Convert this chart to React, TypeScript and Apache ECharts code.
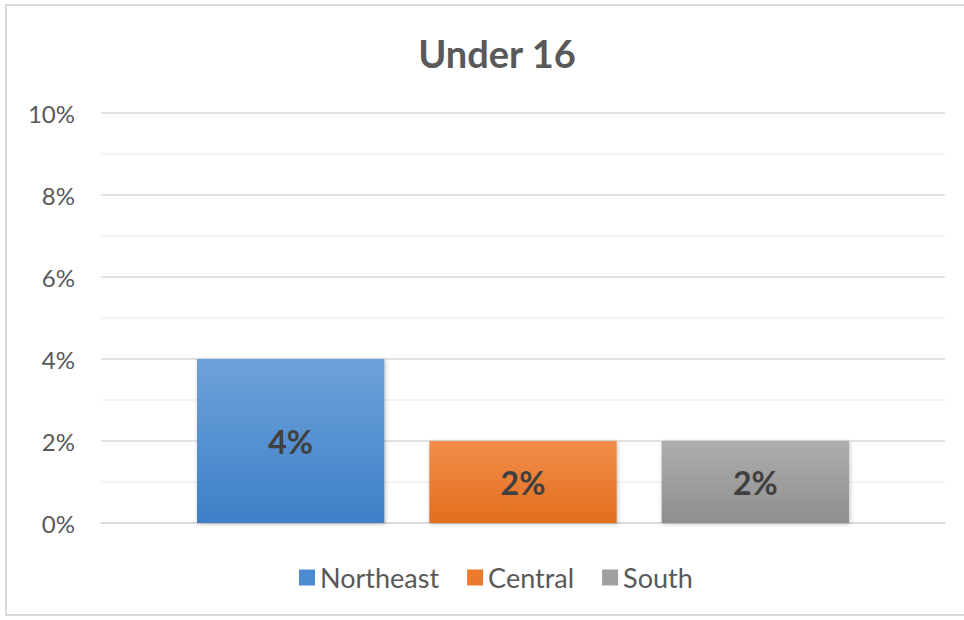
import React, { useEffect, useRef } from "react";
import * as echarts from "echarts";

const title = "Under 16";
const seriesNames = ["Northeast", "Central", "South"];
const seriesValues = [4, 2, 2];
const yTicks = [0, 2, 4, 6, 8, 10];
const colorsTop = ["#6DA2DB", "#F28D4A", "#ADADAD"];
const colorsBottom = ["#3E7FC7", "#E26E1D", "#8F8F8F"];
const legendColors = ["#4A8BD2", "#EC7A2E", "#A0A0A0"];

const FONT = "Lato, 'Open Sans', sans-serif";

export default function App() {
  const ref = useRef<HTMLDivElement>(null);
  useEffect(() => {
    if (!ref.current) return;
    const chart = echarts.init(ref.current, null, { renderer: "svg" });
    const series = seriesNames.map((name, i) => ({
      name,
      type: "bar",
      data: [seriesValues[i]],
      barGap: "24%",
      barCategoryGap: "22.75%",
      itemStyle: {
        color: new echarts.graphic.LinearGradient(0, 0, 0, 1, [
          { offset: 0, color: colorsTop[i] },
          { offset: 1, color: colorsBottom[i] },
        ]),
        shadowColor: "rgba(0,0,0,0.25)",
        shadowBlur: 4,
        shadowOffsetX: 1,
        shadowOffsetY: 1,
      },
      label: {
        show: true,
        position: "inside",
        formatter: "{c}%",
        fontFamily: FONT,
        fontSize: 32,
        fontWeight: "bold",
        color: "#404040",
      },
    }));
    chart.setOption({
      animation: false,
      backgroundColor: "#ffffff",
      color: legendColors,
      title: {
        text: title,
        left: 492,
        textAlign: "center",
        top: 29,
        textStyle: { fontFamily: FONT, fontSize: 38, fontWeight: "bold", color: "#595959" },
      },
      legend: {
        data: seriesNames.map((n, i) => ({ name: n, itemStyle: { color: legendColors[i] } })),
        top: 559,
        left: 294,
        icon: "rect",
        itemWidth: 16,
        itemHeight: 16,
        itemGap: 28,
        textStyle: { fontFamily: FONT, fontSize: 27, color: "#595959" },
      },
      grid: { left: 101, right: 19, top: 113, bottom: 97 },
      xAxis: {
        type: "category",
        data: [""],
        axisLine: { show: true, lineStyle: { color: "#D9D9D9", width: 1.5 } },
        axisTick: { show: false },
        axisLabel: { show: false },
      },
      yAxis: {
        type: "value",
        min: yTicks[0],
        max: yTicks[yTicks.length - 1],
        interval: 2,
        axisLine: { show: false },
        axisTick: { show: false },
        axisLabel: {
          formatter: "{value}%",
          fontFamily: FONT,
          fontSize: 24,
          color: "#595959",
          margin: 26,
        },
        splitLine: { lineStyle: { color: "#D9D9D9", width: 1.5 } },
        minorTick: { show: false, splitNumber: 2 },
        minorSplitLine: { show: true, lineStyle: { color: "#F0F0F0", width: 1.5 } },
      },
      graphic: [
        {
          type: "rect",
          shape: { x: 6, y: 5, width: 970, height: 610 },
          style: { fill: "none", stroke: "#D9D9D9", lineWidth: 2 },
          silent: true,
        },
      ],
      series,
    });
    return () => chart.dispose();
  }, []);
  return (
    <div
      ref={ref}
      style={{ position: "fixed", left: 0, top: 0, width: 964, height: 620 }}
    />
  );
}
